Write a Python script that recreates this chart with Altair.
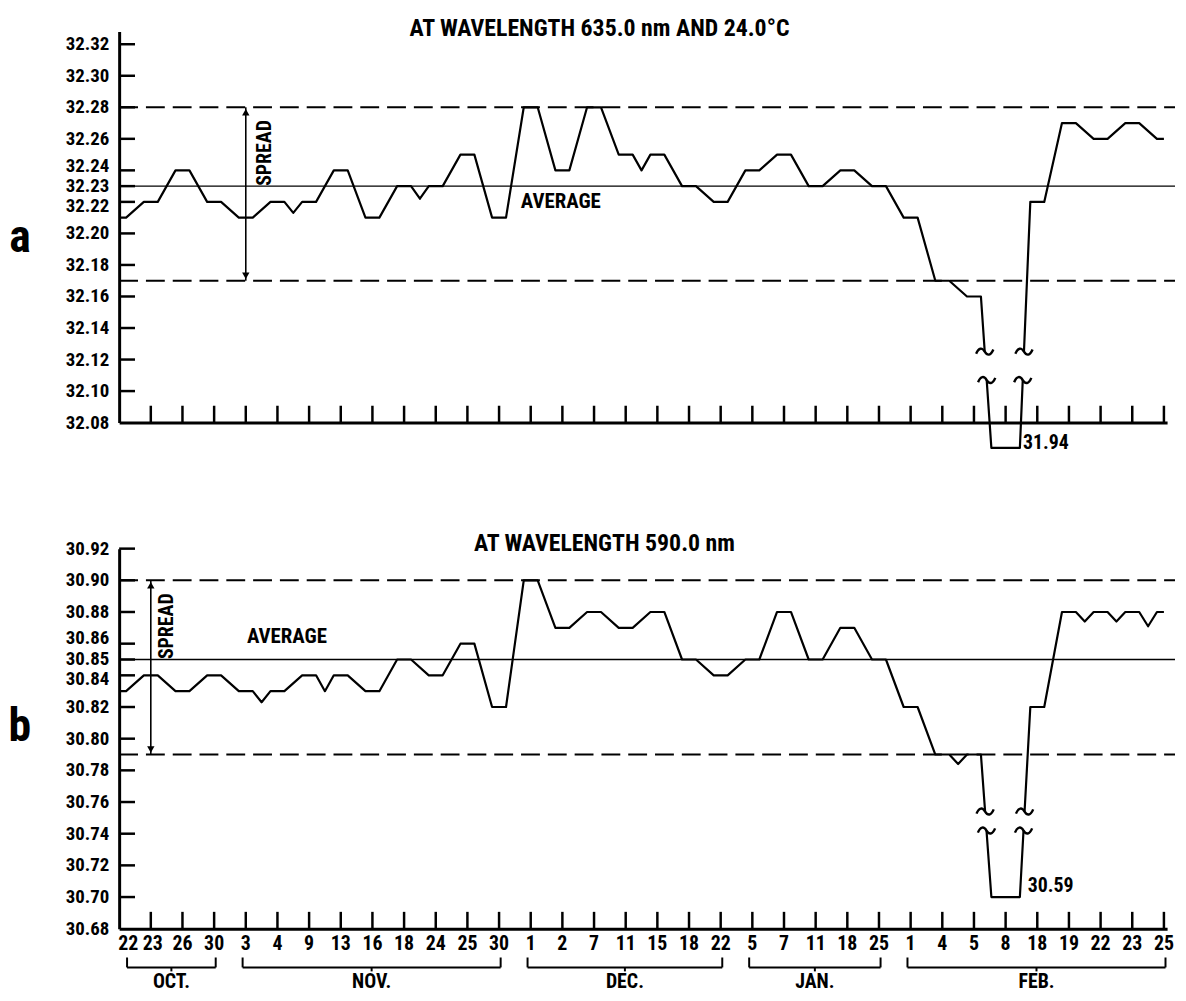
import altair as alt
import pandas as pd

# ---------------- data ----------------
day_labels = ["22", "23", "26", "30",
              "3", "4", "9", "13", "16", "18", "24", "25", "30",
              "1", "2", "7", "11", "15", "18", "22",
              "5", "7", "11", "18", "25",
              "1", "4", "5", "8", "18", "19", "22", "23", "25"]
month_names = ["OCT.", "NOV.", "DEC.", "JAN.", "FEB."]
month_sizes = [4, 9, 7, 5, 9]

# (a) 635.0 nm, 24.0 C
vals_a = [32.21, 32.22, 32.24, 32.22,
          32.21, 32.22, 32.22, 32.24, 32.21, 32.23, 32.23, 32.25, 32.21,
          32.28, 32.24, 32.28, 32.25, 32.25, 32.23, 32.22,
          32.24, 32.25, 32.23, 32.24, 32.23,
          32.21, 32.17, 32.16, 31.94, 32.22, 32.27, 32.26, 32.27, 32.26]
notch_after_a = [5, 9, 16]
notch_vals_a = [32.213, 32.222, 32.24]
avg_a = 32.23
spread_a = [32.28, 32.17]
yticks_a = [32.08, 32.10, 32.12, 32.14, 32.16, 32.18, 32.20, 32.22, 32.23,
            32.24, 32.26, 32.28, 32.30, 32.32]

# (b) 590.0 nm
vals_b = [30.83, 30.84, 30.83, 30.84,
          30.83, 30.83, 30.84, 30.84, 30.83, 30.85, 30.84, 30.86, 30.82,
          30.90, 30.87, 30.88, 30.87, 30.88, 30.85, 30.84,
          30.85, 30.88, 30.85, 30.87, 30.85,
          30.82, 30.79, 30.79, 30.59, 30.82, 30.88, 30.88, 30.88, 30.88]
notch_after_b = [4, 6, 26, 30, 31, 32]
notch_vals_b = [30.823, 30.83, 30.784, 30.874, 30.874, 30.871]
avg_b = 30.85
spread_b = [30.90, 30.79]
yticks_b = [30.68, 30.70, 30.72, 30.74, 30.76, 30.78, 30.80, 30.82, 30.84,
            30.85, 30.86, 30.88, 30.90, 30.92]

# ---------------- styling ----------------
FONT = "Roboto Condensed, Roboto, sans-serif"
YFONT = "Roboto Condensed, Roboto, sans-serif"
YFS = 19
W = 1056
XMAX = 33.1
PLATEAU = 0.22
PLATEAU_BROKEN = 0.45
TILDE = "M-1,0.25C-0.7,-0.5,-0.3,-0.5,0,0C0.3,0.5,0.7,0.5,1,-0.25"

PANELS = [
    dict(vals=vals_a, notch_after=notch_after_a, notch_vals=notch_vals_a,
         avg=avg_a, spread=spread_a, yticks=yticks_a, nudge={32.24: -4, 32.22: 4},
         ymin=32.08, ymax=32.328, height=394,
         floor=32.064, gap=(32.107, 32.125),
         title="AT WAVELENGTH 635.0 nm AND 24.0\u00b0C", title_x=484, title_y=-3,
         letter="a", letter_y=32.197,
         spread_x=4, spread_text=(4.6, 32.251), avg_text=(13.95, 32.22),
         break_dx=0.55, break_y=32.067, x_labels=False),
    dict(vals=vals_b, notch_after=notch_after_b, notch_vals=notch_vals_b,
         avg=avg_b, spread=spread_b, yticks=yticks_b, nudge={30.86: -6, 30.84: 4},
         ymin=30.68, ymax=30.92, height=383,
         floor=30.70, gap=(30.742, 30.754),
         title="AT WAVELENGTH 590.0 nm", title_x=489, title_y=-5,
         letter="b", letter_y=30.807,
         spread_x=1, spread_text=(1.5, 30.871), avg_text=(5.3, 30.864),
         break_dx=0.7, break_y=30.707, x_labels=True),
]
XNUDGE = {0: -1, 1: 2}


def one(**kw):
    return pd.DataFrame({k: [v] for k, v in kw.items()})


def build_panel(P):
    vals = P["vals"]
    n = len(vals)
    H = P["height"]
    ymin = P["ymin"]
    xscale = alt.Scale(domain=[0, XMAX], nice=False, zero=False)
    yscale = alt.Scale(domain=[ymin, P["ymax"]], nice=False, zero=False)

    xaxis = alt.Axis(labels=False, ticks=False, grid=False, title=None,
                     domainWidth=3, domainColor="black")
    yaxis = alt.Axis(labels=False, ticks=False, grid=False, title=None,
                     domainWidth=3, domainColor="black")

    # line with small plateaus at each reading
    pts = []
    broken = None
    for i, v in enumerate(vals):
        if v < ymin:
            broken = i
            yv, hw = P["floor"], PLATEAU_BROKEN
        else:
            yv, hw = v, PLATEAU
        pts.append((max(i - hw, 0), yv))
        pts.append((min(i + hw, n - 1), yv))
    for k, v in zip(P["notch_after"], P["notch_vals"]):
        pts.append((k + 0.5, v))
    pts.sort()
    df_line = pd.DataFrame(pts, columns=["x", "y"])

    line = alt.Chart(df_line).mark_line(color="black", strokeWidth=2.2, strokeJoin="round").encode(
        x=alt.X("x:Q", scale=xscale, axis=xaxis),
        y=alt.Y("y:Q", scale=yscale, axis=yaxis),
        order="x:Q")

    df_ref = pd.DataFrame({"y": P["spread"], "x0": [0, 0], "x1": [33.35, 33.35]})
    dashed = alt.Chart(df_ref).mark_rule(color="black", strokeWidth=2, strokeDash=[19, 8]).encode(
        x="x0:Q", x2="x1:Q", y="y:Q")
    avg = alt.Chart(one(y=P["avg"], x0=0, x1=33.35)).mark_rule(color="black", strokeWidth=1.3).encode(
        x="x0:Q", x2="x1:Q", y="y:Q")

    # y tick marks and labels
    df_y = pd.DataFrame({"y": P["yticks"], "t": ["%.2f" % t for t in P["yticks"]]})
    ytk = alt.Chart(df_y[df_y["y"] > ymin]).mark_rule(
        color="black", strokeWidth=2.5).encode(y="y:Q", x=alt.value(0), x2=alt.value(16))
    plain = df_y[~df_y["y"].isin(list(P["nudge"].keys()))]
    ylabs = [alt.Chart(plain).mark_text(font=YFONT, fontSize=YFS, fontWeight="bold", color="black",
                                        align="right", baseline="middle").encode(
        x=alt.value(-10), y="y:Q", text="t:N")]
    for v, d in P["nudge"].items():
        ylabs.append(alt.Chart(df_y[df_y["y"] == v]).mark_text(
            font=YFONT, fontSize=YFS, fontWeight="bold", color="black",
            align="right", baseline="middle", dy=d).encode(
            x=alt.value(-10), y="y:Q", text="t:N"))
    xtk = alt.Chart(pd.DataFrame({"i": list(range(1, n))})).mark_rule(
        color="black", strokeWidth=2.5).encode(x="i:Q", y=alt.value(H), y2=alt.value(H - 17))

    sx = P["spread_x"]
    arrow = alt.Chart(one(x=sx, y0=P["spread"][0], y1=P["spread"][1])).mark_rule(
        color="black", strokeWidth=1.6).encode(x="x:Q", y="y0:Q", y2="y1:Q")
    head_up = alt.Chart(one(x=sx, y=P["spread"][0])).mark_point(
        shape="triangle-up", filled=True, size=55, color="black", opacity=1, yOffset=5).encode(
        x="x:Q", y="y:Q")
    head_dn = alt.Chart(one(x=sx, y=P["spread"][1])).mark_point(
        shape="triangle-down", filled=True, size=55, color="black", opacity=1, yOffset=-5).encode(
        x="x:Q", y="y:Q")
    spread_txt = alt.Chart(one(x=P["spread_text"][0], y=P["spread_text"][1], t="SPREAD")).mark_text(
        font=FONT, fontSize=20, fontWeight="bold", angle=270, color="black").encode(
        x="x:Q", y="y:Q", text="t:N")
    avg_txt = alt.Chart(one(x=P["avg_text"][0], y=P["avg_text"][1], t="AVERAGE")).mark_text(
        font=FONT, fontSize=21, fontWeight="bold", color="black").encode(
        x="x:Q", y="y:Q", text="t:N")

    title = alt.Chart(one(t=P["title"])).mark_text(
        font=FONT, fontSize=24, fontWeight="bold", color="black").encode(
        x=alt.value(P["title_x"]), y=alt.value(P["title_y"]), text="t:N")
    letter = alt.Chart(one(y=P["letter_y"], t=P["letter"])).mark_text(
        font=FONT, fontSize=46, fontWeight="bold", color="black").encode(
        x=alt.value(-100), y="y:Q", text="t:N")

    layers = [line, dashed, avg, ytk, xtk, arrow, head_up, head_dn] + ylabs

    # axis break for the off-scale reading
    j = broken
    xl0, yl0 = j - 1 + PLATEAU, vals[j - 1]
    xl1, yl1 = j - PLATEAU_BROKEN, P["floor"]
    xr0, yr0 = j + PLATEAU_BROKEN, P["floor"]
    xr1, yr1 = j + 1 - PLATEAU, vals[j + 1]
    tl = []
    for L in P["gap"]:
        tl.append((xl0 + (yl0 - L) / (yl0 - yl1) * (xl1 - xl0), L))
        tl.append((xr0 + (L - yr0) / (yr1 - yr0) * (xr1 - xr0), L))
    gap_rect = alt.Chart(one(x0=xl0 + 0.05, x1=xr1 - 0.05, y0=P["gap"][0], y1=P["gap"][1])).mark_rect(
        color="white").encode(x="x0:Q", x2="x1:Q", y="y0:Q", y2="y1:Q")
    tildes = alt.Chart(pd.DataFrame(tl, columns=["x", "y"])).mark_point(
        shape=TILDE, filled=False, size=300, color="black", strokeWidth=2.4, opacity=1).encode(
        x="x:Q", y="y:Q")
    brk_txt = alt.Chart(one(x=j + P["break_dx"], y=P["break_y"],
                            t="%.2f" % vals[j])).mark_text(
        font=FONT, fontSize=20, fontWeight="bold", color="black", align="left").encode(
        x="x:Q", y="y:Q", text="t:N")

    layers += [gap_rect, tildes, brk_txt, spread_txt, avg_txt, title, letter]

    if P["x_labels"]:
        df_x = pd.DataFrame({"i": list(range(n)), "t": day_labels})
        rest = df_x[~df_x["i"].isin(list(XNUDGE.keys()))]
        xlabs = [alt.Chart(rest).mark_text(
            font=FONT, fontSize=20, fontWeight="bold", color="black", align="center",
            baseline="middle").encode(x="i:Q", y=alt.value(H + 15), text="t:N")]
        for i, d in XNUDGE.items():
            xlabs.append(alt.Chart(df_x[df_x["i"] == i]).mark_text(
                font=FONT, fontSize=20, fontWeight="bold", color="black",
                align="left" if i == 0 else "center", baseline="middle", dx=d).encode(
                x="i:Q", y=alt.value(H + 15), text="t:N"))
        rows = []
        c = 0
        for name, sz in zip(month_names, month_sizes):
            s = max(c - 0.1, 0.25)
            e = c + sz - 1 + 0.05
            rows.append(dict(s=s, e=e, m=(s + e) / 2, name=name))
            c += sz
        dm = pd.DataFrame(rows)
        ends = pd.DataFrame({"x": list(dm["s"]) + list(dm["e"])})
        hbar = alt.Chart(dm).mark_rule(color="black", strokeWidth=2).encode(
            x="s:Q", x2="e:Q", y=alt.value(H + 39))
        eb = alt.Chart(ends).mark_rule(color="black", strokeWidth=2).encode(
            x="x:Q", y=alt.value(H + 29), y2=alt.value(H + 39))
        nb = alt.Chart(dm).mark_rule(color="black", strokeWidth=2).encode(
            x="m:Q", y=alt.value(H + 39), y2=alt.value(H + 43))
        mt = alt.Chart(dm).mark_text(font=FONT, fontSize=20, fontWeight="bold", color="black").encode(
            x="m:Q", y=alt.value(H + 54), text="name:N")
        layers += xlabs + [hbar, eb, nb, mt]

    return alt.layer(*layers).properties(width=W, height=H)


chart = alt.vconcat(*[build_panel(P) for P in PANELS], spacing=79).properties(
    padding={"left": 0, "top": 5, "right": 2, "bottom": 0}
).configure_view(stroke=None)

chart.save("out.html", embed_options={"renderer": "svg", "actions": False})
